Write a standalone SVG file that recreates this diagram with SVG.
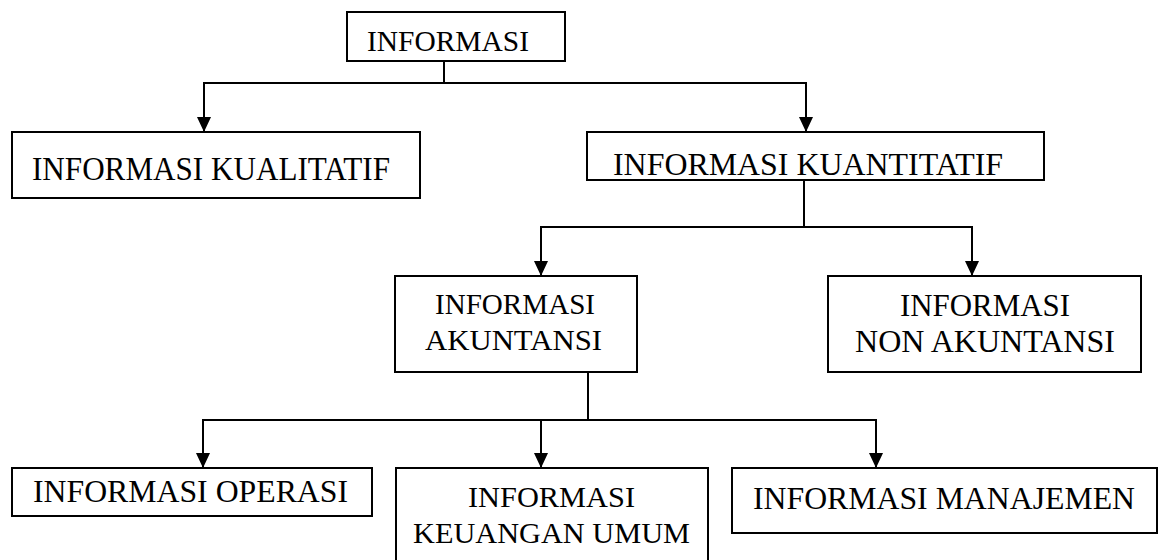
<svg xmlns="http://www.w3.org/2000/svg" width="1159" height="560" viewBox="0 0 1159 560">
<defs>
<style>
.box{fill:#fff;stroke:#000;stroke-width:2}
.t{font-family:"Liberation Serif","Times New Roman","DejaVu Serif",serif;fill:#000}
.c{fill:none;stroke:#000;stroke-width:2}
</style>
<marker id="ah" markerUnits="userSpaceOnUse" markerWidth="16" markerHeight="14" refX="15" refY="7" orient="auto">
<path d="M0,0 L15,7 L0,14 z" fill="#000"/>
</marker>
</defs>
<rect width="1159" height="560" fill="#fff"/>
<g id="connectors">
<path class="c" d="M444 61 V83"/>
<path class="c" d="M203 83 H807"/>
<path class="c" d="M204 83 V132" marker-end="url(#ah)"/>
<path class="c" d="M806 83 V132" marker-end="url(#ah)"/>
<path class="c" d="M804 180 V227"/>
<path class="c" d="M540 227 H973"/>
<path class="c" d="M541 227 V276" marker-end="url(#ah)"/>
<path class="c" d="M972 227 V276" marker-end="url(#ah)"/>
<path class="c" d="M588 372 V420"/>
<path class="c" d="M202 420 H877"/>
<path class="c" d="M203 420 V468" marker-end="url(#ah)"/>
<path class="c" d="M541 420 V468" marker-end="url(#ah)"/>
<path class="c" d="M876 420 V468" marker-end="url(#ah)"/>
</g>
<g id="informasi">
<rect class="box" x="347" y="12" width="218" height="49"/>
<text class="t" x="367" y="51" font-size="29.5" textLength="162" lengthAdjust="spacingAndGlyphs">INFORMASI</text>
</g>
<g id="kualitatif">
<rect class="box" x="12" y="132" width="408" height="66"/>
<text class="t" x="32" y="180" font-size="33" textLength="358" lengthAdjust="spacingAndGlyphs">INFORMASI KUALITATIF</text>
</g>
<g id="kuantitatif">
<rect class="box" x="587" y="132" width="457" height="48"/>
<text class="t" x="613" y="175" font-size="32" textLength="390" lengthAdjust="spacingAndGlyphs">INFORMASI KUANTITATIF</text>
</g>
<g id="akuntansi">
<rect class="box" x="395" y="276" width="242" height="96"/>
<text class="t" x="435" y="314" font-size="30" textLength="160" lengthAdjust="spacingAndGlyphs">INFORMASI</text>
<text class="t" x="425" y="350" font-size="30" textLength="177" lengthAdjust="spacingAndGlyphs">AKUNTANSI</text>
</g>
<g id="non-akuntansi">
<rect class="box" x="828" y="276" width="313" height="96"/>
<text class="t" x="900" y="316" font-size="31" textLength="170" lengthAdjust="spacingAndGlyphs">INFORMASI</text>
<text class="t" x="855" y="352" font-size="31.5" textLength="260" lengthAdjust="spacingAndGlyphs">NON AKUNTANSI</text>
</g>
<g id="operasi">
<rect class="box" x="12" y="468" width="360" height="48"/>
<text class="t" x="33" y="502" font-size="31" textLength="315" lengthAdjust="spacingAndGlyphs">INFORMASI OPERASI</text>
</g>
<g id="keuangan-umum">
<rect class="box" x="396" y="468" width="312" height="100"/>
<text class="t" x="468" y="507" font-size="30.3" textLength="167" lengthAdjust="spacingAndGlyphs">INFORMASI</text>
<text class="t" x="413" y="543" font-size="30.3" textLength="277" lengthAdjust="spacingAndGlyphs">KEUANGAN UMUM</text>
</g>
<g id="manajemen">
<rect class="box" x="732" y="468" width="425" height="65"/>
<text class="t" x="753" y="509" font-size="31" textLength="382" lengthAdjust="spacingAndGlyphs">INFORMASI MANAJEMEN</text>
</g>
</svg>
